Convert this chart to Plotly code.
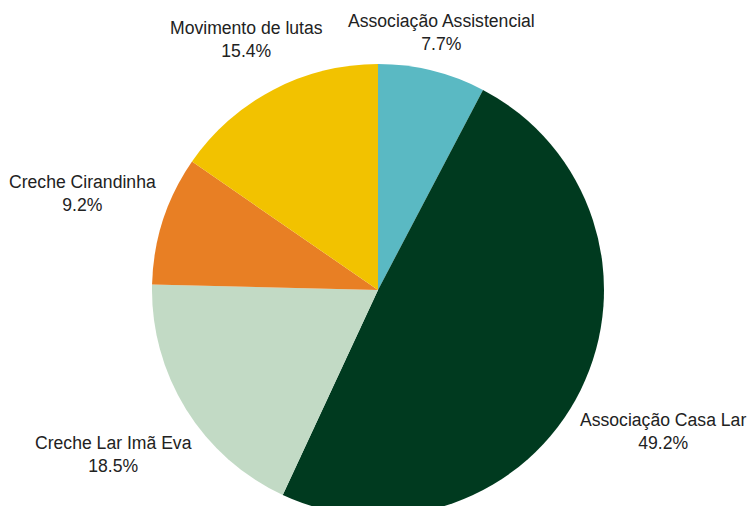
import math
import plotly.graph_objects as go

labels = ["Associação Assistencial", "Associação Casa Lar", "Creche Lar Imã Eva",
          "Creche Cirandinha", "Movimento de lutas"]
values = [5, 32, 12, 6, 10]
colors = ["#5ab9c3", "#003a1f", "#c2dac5", "#e87f24", "#f2c200"]

FONT = "Liberation Sans, Arial, sans-serif"
FS = 17.6
TXT = "#222222"

# layout geometry (pixels); the disc runs past the bottom of the 506px view
W, H = 752, 516
ML, MR, MT, MB = 152, 148, 64, 0
PW, PH = W - ML - MR, H - MT - MB
R = min(PW, PH) / 2
CX, CY = ML + PW / 2, MT + PH / 2
GAP = 8

# approximate Arial/Liberation Sans advance widths (per 1000 em)
CW = {' ': 278, 'A': 667, 'C': 722, 'E': 667, 'I': 278, 'L': 556, 'M': 833,
      'a': 556, 'c': 500, 'd': 556, 'e': 556, 'h': 556, 'i': 222, 'l': 222,
      'm': 833, 'n': 556, 'o': 556, 'r': 333, 's': 500, 't': 278, 'u': 556,
      'v': 500, 'ç': 500, 'ã': 556, '.': 278, '%': 889}


def text_w(s):
    return sum(CW.get(ch, 556) for ch in s) * FS / 1000


def box_dist(d, ux, uy, hw, hh):
    cx, cy = d * ux, d * uy
    nx = 0 if abs(cx) <= hw else abs(cx) - hw
    ny = 0 if abs(cy) <= hh else abs(cy) - hh
    return math.hypot(nx, ny)


total = sum(values)
annotations = []
cum = 0
for lab, v in zip(labels, values):
    pct = v / total
    mid = (cum + pct / 2) * 2 * math.pi
    cum += pct
    ux, uy = math.sin(mid), -math.cos(mid)  # screen coords, y down
    pct_txt = f"{pct * 100:.1f}%"
    hw = max(text_w(lab), text_w(pct_txt)) / 2
    hh = 23
    lo, hi = 0.0, 1000.0
    for _ in range(60):
        m = (lo + hi) / 2
        if box_dist(m, ux, uy, hw, hh) < R + GAP:
            lo = m
        else:
            hi = m
    px, py = CX + hi * ux, CY + hi * uy
    annotations.append(dict(
        x=(px - ML) / PW, y=1 - (py - MT) / PH, xref="paper", yref="paper",
        text=f"{lab}<br>{pct_txt}", showarrow=False,
        xanchor="center", yanchor="middle", align="center",
        font=dict(family=FONT, size=FS, color=TXT),
    ))

fig = go.Figure(go.Pie(
    labels=labels,
    values=values,
    sort=False,
    direction="clockwise",
    rotation=0,
    marker=dict(colors=colors, line=dict(width=0)),
    textinfo="none",
    showlegend=False,
    hoverinfo="label+percent",
))

fig.update_layout(
    width=W,
    height=H,
    margin=dict(l=ML, r=MR, t=MT, b=MB),
    paper_bgcolor="white",
    plot_bgcolor="white",
    font=dict(family=FONT, size=FS, color=TXT),
    annotations=annotations,
)

fig.write_html("out.html",
               config={"displayModeBar": False},
               post_script="document.body.style.margin='0';"
                           "document.documentElement.style.overflow='hidden';"
                           "document.body.style.overflow='hidden';")
